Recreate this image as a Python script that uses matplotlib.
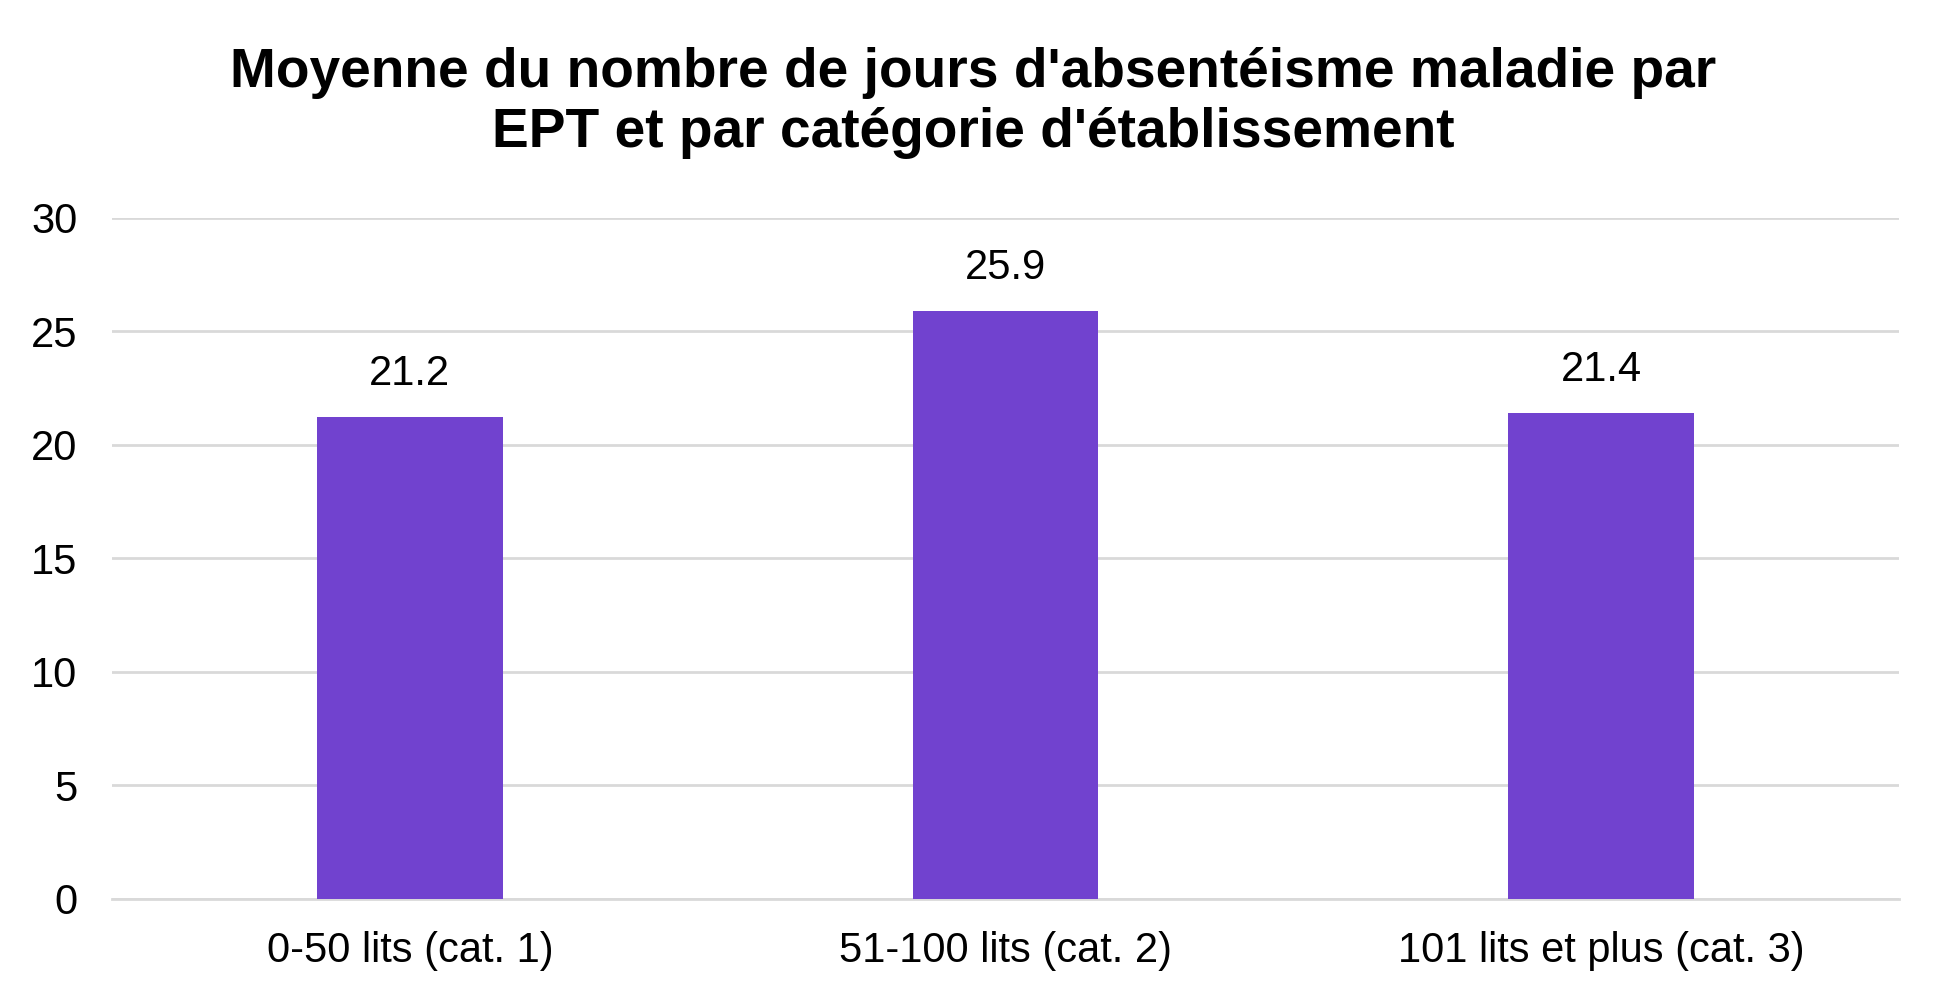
import matplotlib
matplotlib.use("Agg")
import matplotlib.pyplot as plt

categories = ["0-50 lits (cat. 1)", "51-100 lits (cat. 2)", "101 lits et plus (cat. 3)"]
values = [21.2, 25.9, 21.4]
yticks = [0, 5, 10, 15, 20, 25, 30]
title = "Moyenne du nombre de jours d'absentéisme maladie par\nEPT et par catégorie d'établissement"

plt.rcParams['font.family'] = ['Liberation Sans', 'DejaVu Sans']

fig = plt.figure(figsize=(19.49, 10), dpi=100)
ax = fig.add_axes([0.0575, 0.101, 0.9168, 0.6815])

x = list(range(len(categories)))
bars = ax.bar(x, values, width=0.312, color="#7142CF", zorder=3)

ax.set_xlim(-0.5, len(categories) - 0.5)
ax.set_ylim(0, 30)
ax.set_yticks(yticks)
ax.set_yticklabels([str(t) for t in yticks])
ax.set_xticks(x)
ax.set_xticklabels(categories)

ax.yaxis.grid(True, color="#d9d9d9", linewidth=2.0, zorder=0)
ax.set_axisbelow(True)
for s in ["top", "right", "left"]:
    ax.spines[s].set_visible(False)
ax.spines["bottom"].set_color("#d9d9d9")
ax.spines["bottom"].set_linewidth(2.0)
ax.tick_params(axis="both", length=0, labelsize=30, colors="black")
ax.tick_params(axis="y", pad=25)
ax.tick_params(axis="x", pad=23)

for xi, v in zip(x, values):
    ax.annotate(f"{v:.1f}", (xi, v), xytext=(0, 31), textcoords="offset points",
                ha="center", va="center", fontsize=30)

fig.text(0.4995, 0.953, title, ha="center", va="top", fontsize=39.7,
         fontweight="bold", linespacing=1.2)

fig.savefig("out.png", dpi=100, facecolor="white")
